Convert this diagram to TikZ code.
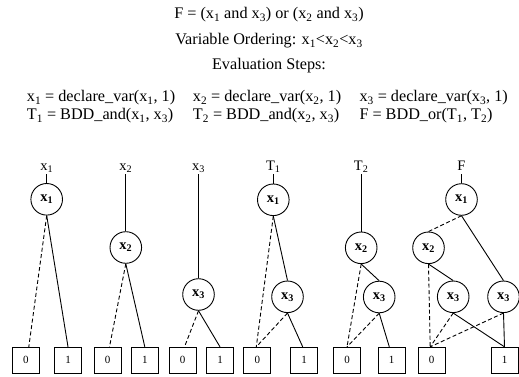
\documentclass[tikz,border=0pt]{standalone}
\usepackage{fontspec}
\setmainfont{Liberation Serif}
\newcommand{\sub}[1]{\textsubscript{#1}}
\begin{document}
\begin{tikzpicture}[x=1pt,y=-1pt,
  txt/.style={font=\fontsize{16.2}{19}\selectfont, inner sep=0pt, anchor=base},
  steptxt/.style={font=\fontsize{16.2}{19}\selectfont, inner sep=0pt, anchor=base west},
  lab/.style={font=\fontsize{14.5}{17}\selectfont, inner sep=1pt, anchor=south, text height=10pt, text depth=2.5pt},
  var/.style={circle, draw, line width=0.9pt, minimum size=31.6pt, inner sep=0pt, font=\bfseries\fontsize{14.5}{17}\selectfont},
  term/.style={draw, line width=0.9pt, minimum width=27pt, minimum height=26pt, inner sep=0pt, font=\fontsize{11}{13}\selectfont},
  hi/.style={line width=0.9pt},
  lo/.style={line width=0.9pt, dash pattern=on 4pt off 2.5pt}]
\useasboundingbox (0,0) rectangle (519,377);

% heading
\node[txt] (head1) at (269,19) {F = (x\sub{1} and x\sub{3}) or (x\sub{2} and x\sub{3})};
\node[txt] (head2) at (269,45) {Variable Ordering: x\sub{1}<x\sub{2}<x\sub{3}};
\node[txt] (head3) at (269,70) {Evaluation Steps:};

% evaluation steps
\node[steptxt] (s1) at (26.7,102) {x\sub{1} = declare\_var(x\sub{1}, 1)};
\node[steptxt] (s2) at (192.7,102) {x\sub{2} = declare\_var(x\sub{2}, 1)};
\node[steptxt] (s3) at (359.3,102) {x\sub{3} = declare\_var(x\sub{3}, 1)};
\node[steptxt] (s4) at (26.7,119.5) {T\sub{1} = BDD\_and(x\sub{1}, x\sub{3})};
\node[steptxt] (s5) at (192.7,119.5) {T\sub{2} = BDD\_and(x\sub{2}, x\sub{3})};
\node[steptxt] (s6) at (359.3,119.5) {F = BDD\_or(T\sub{1}, T\sub{2})};

% terminal boxes
\foreach \n/\x/\v in {b10/25.8/0, b11/68/1, b20/107.5/0, b21/144.8/1, b30/182.5/0, b31/220/1,
                      b40/257.3/0, b41/304.2/1, b50/347/0, b51/391.7/1, b60/431.7/0, b61/504.5/1}
  \node[term] (\n) at (\x,360.3) {\v};

% column 1: x1
\node[lab] (l1) at (46.7,174) {x\sub{1}};
\node[var] (a1) at (46.7,199.3) {x\sub{1}};
\draw[hi] (l1.south) -- (a1.north);
\draw[lo] (a1.south) -- ([xshift=3pt]b10.north);
\draw[hi] (a1.south) -- (b11.north);

% column 2: x2
\node[lab] (l2) at (125.8,174) {x\sub{2}};
\node[var] (a2) at (125.8,247.5) {x\sub{2}};
\draw[hi] (l2.south) -- (a2.north);
\draw[lo] (a2.south) -- ([xshift=2pt]b20.north);
\draw[hi] (a2.south) -- (b21.north);

% column 3: x3
\node[lab] (l3) at (198.5,174) {x\sub{3}};
\node[var] (a3) at (198.5,294.5) {x\sub{3}};
\draw[hi] (l3.south) -- (a3.north);
\draw[lo] (a3.south) -- ([xshift=2pt]b30.north);
\draw[hi] (a3.south) -- (b31.north);

% column 4: T1
\node[lab] (l4) at (273.3,174) {T\sub{1}};
\node[var] (a4) at (273.3,199.8) {x\sub{1}};
\node[var] (a4b) at (287.5,296.8) {x\sub{3}};
\draw[hi] (l4.south) -- (a4.north);
\draw[lo] (a4.south) -- ([xshift=-1pt]b40.north);
\draw[hi] (a4.south) -- (a4b.north);
\draw[lo] (a4b.south) -- ([xshift=-1pt]b40.north);
\draw[hi] (a4b.south) -- ([xshift=-1.5pt]b41.north);

% column 5: T2
\node[lab] (l5) at (361.2,174) {T\sub{2}};
\node[var] (a5) at (361.2,247.8) {x\sub{2}};
\node[var] (a5b) at (379.2,297) {x\sub{3}};
\draw[hi] (l5.south) -- (a5.north);
\draw[lo] (a5.south) -- (b50.north);
\draw[hi] (a5.south) -- (a5b.north);
\draw[lo] (a5b.south) -- (b50.north);
\draw[hi] (a5b.south) -- ([xshift=-2.4pt]b51.north);

% column 6: F
\node[lab] (l6) at (461.5,174) {F};
\node[var] (a6) at (461.5,199.5) {x\sub{1}};
\node[var] (a6b) at (428.5,247.8) {x\sub{2}};
\node[var] (a6c) at (453.2,296.8) {x\sub{3}};
\node[var] (a6d) at (503.5,296.8) {x\sub{3}};
\draw[hi] (l6.south) -- (a6.north);
\draw[lo] (a6.south) -- (a6b.north);
\draw[hi] (a6.south) -- (a6d.north);
\draw[lo] (a6b.south) -- ([xshift=-1.5pt]b60.north);
\draw[hi] (a6b.south) -- (a6c.north);
\draw[lo] (a6c.south) -- ([xshift=-1.5pt]b60.north);
\draw[hi] (a6c.south) -- (b61.north);
\draw[lo] (a6d.south) -- ([xshift=-1.5pt]b60.north);
\draw[hi] (a6d.south) -- (b61.north);
\end{tikzpicture}
\end{document}
